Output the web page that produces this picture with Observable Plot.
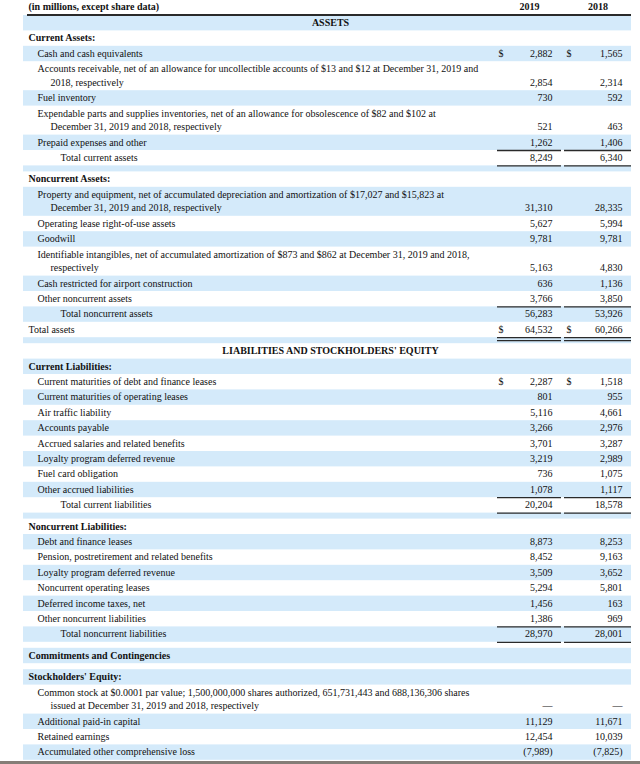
<!DOCTYPE html>
<html><head><meta charset="utf-8">
<script src="https://cdn.jsdelivr.net/npm/d3@7"></script>
<script src="https://cdn.jsdelivr.net/npm/@observablehq/plot@0.6"></script>
<style>
html,body{margin:0;padding:0;background:#fff;}
#chart svg{display:block;}
</style></head><body><div id="chart"></div>
<script>
// ---------- data ----------
const unitNote = "(in millions, except share data)";
const columnHeaders = ["2019", "2018"];

const rowLabels = [
  "ASSETS",
  "Current Assets:",
  "Cash and cash equivalents",
  "Accounts receivable, net of an allowance for uncollectible accounts of $13 and $12 at December 31, 2019 and|2018, respectively",
  "Fuel inventory",
  "Expendable parts and supplies inventories, net of an allowance for obsolescence of $82 and $102 at|December 31, 2019 and 2018, respectively",
  "Prepaid expenses and other",
  "Total current assets",
  "",
  "Noncurrent Assets:",
  "Property and equipment, net of accumulated depreciation and amortization of $17,027 and $15,823 at|December 31, 2019 and 2018, respectively",
  "Operating lease right-of-use assets",
  "Goodwill",
  "Identifiable intangibles, net of accumulated amortization of $873 and $862 at December 31, 2019 and 2018,|respectively",
  "Cash restricted for airport construction",
  "Other noncurrent assets",
  "Total noncurrent assets",
  "Total assets",
  "",
  "LIABILITIES AND STOCKHOLDERS' EQUITY",
  "Current Liabilities:",
  "Current maturities of debt and finance leases",
  "Current maturities of operating leases",
  "Air traffic liability",
  "Accounts payable",
  "Accrued salaries and related benefits",
  "Loyalty program deferred revenue",
  "Fuel card obligation",
  "Other accrued liabilities",
  "Total current liabilities",
  "",
  "Noncurrent Liabilities:",
  "Debt and finance leases",
  "Pension, postretirement and related benefits",
  "Loyalty program deferred revenue",
  "Noncurrent operating leases",
  "Deferred income taxes, net",
  "Other noncurrent liabilities",
  "Total noncurrent liabilities",
  "",
  "Commitments and Contingencies",
  "",
  "Stockholders' Equity:",
  "Common stock at $0.0001 par value; 1,500,000,000 shares authorized, 651,731,443 and 688,136,306 shares|issued at December 31, 2019 and 2018, respectively",
  "Additional paid-in capital",
  "Retained earnings",
  "Accumulated other comprehensive loss"
];

// row roles: section, group, item, subtotal, total, grand, spacer
const rowKinds = [
  "section","group","item","item","item","item","item","subtotal","spacer",
  "group","item","item","item","item","item","item","total","grand","spacer",
  "section","group","item","item","item","item","item","item","item","item","subtotal","spacer",
  "group","item","item","item","item","item","item","subtotal","spacer",
  "group","spacer","group","item","item","item","item"
];

const values2019 = [
  null,null,2882,2854,730,521,1262,8249,null,
  null,31310,5627,9781,5163,636,3766,56283,64532,null,
  null,null,2287,801,5116,3266,3701,3219,736,1078,20204,null,
  null,8873,8452,3509,5294,1456,1386,28970,null,
  null,null,null,0,11129,12454,-7989
];
const values2018 = [
  null,null,1565,2314,592,463,1406,6340,null,
  null,28335,5994,9781,4830,1136,3850,53926,60266,null,
  null,null,1518,955,4661,2976,3287,2989,1075,1117,18578,null,
  null,8253,9163,3652,5801,163,969,28001,null,
  null,null,null,0,11671,10039,-7825
];

const dollarRows = ["Cash and cash equivalents", "Total assets", "Current maturities of debt and finance leases"];

// ---------- layout (computed) ----------
const L = {
  bandX1: 23, bandX2: 631, headX: 28, itemX: 37, wrapX: 50, totalX: 60, centerX: 330,
  dollar1: 498, val1: 552, dollar2: 566, val2: 622,
  col1: [497, 561], col2: [564, 631],
  top: 15, line: 15.4, dbl: 29, spacer: 6
};
const fmt = d3.format(",");
const fmtVal = v => v == null ? "" : v === 0 ? "—" : v < 0 ? "(" + fmt(-v) + ")" : fmt(v);

const rows = rowLabels.map((label, i) => ({label, kind: rowKinds[i], v19: values2019[i], v18: values2018[i], i}));
let yy = L.top;
for (const r of rows) {
  r.lines = r.kind === "spacer" ? [] : r.label.split("|");
  const h = r.kind === "spacer" ? L.spacer : (r.lines.length > 1 ? L.dbl : L.line);
  r.y1 = yy; r.y2 = yy + h; yy += h;
  r.shade = r.i % 2 === 0;
}

const plainText = [], boldStart = [], boldMiddle = [], valueText = [];
for (const r of rows) {
  if (r.kind === "spacer") continue;
  const lineTop = r.y1 + L.line / 2 - 0.5;
  r.lines.forEach((t, k) => {
    const ly = lineTop + k * (L.dbl - L.line);
    if (r.kind === "section") boldMiddle.push({x: L.centerX, y: ly, t});
    else if (r.kind === "group") boldStart.push({x: L.headX, y: ly, t});
    else {
      const x = r.kind === "grand" ? L.headX : (r.kind === "subtotal" || r.kind === "total") ? L.totalX : (k === 0 ? L.itemX : L.wrapX);
      plainText.push({x, y: ly, t});
    }
  });
  const vy = lineTop + (r.lines.length - 1) * (L.dbl - L.line);
  if (r.v19 != null) valueText.push({x: L.val1, y: vy, t: fmtVal(r.v19)});
  if (r.v18 != null) valueText.push({x: L.val2, y: vy, t: fmtVal(r.v18)});
  if (dollarRows.includes(r.label)) {
    plainText.push({x: L.dollar1, y: vy, t: "$"});
    plainText.push({x: L.dollar2, y: vy, t: "$"});
  }
}

const rules = [];
for (const r of rows) {
  const cols = [L.col1, L.col2];
  if (r.kind === "subtotal" || r.kind === "total") cols.forEach(c => rules.push({x1: c[0], x2: c[1], y: r.y1}));
  if (r.kind === "subtotal") cols.forEach(c => rules.push({x1: c[0], x2: c[1], y: r.y2}));
  if (r.kind === "grand") cols.forEach(c => { rules.push({x1: c[0], x2: c[1], y: r.y2}); rules.push({x1: c[0], x2: c[1], y: r.y2 + 3}); });
}

boldStart.push({x: L.headX, y: 6.5, t: unitNote});
boldMiddle.push({x: (L.col1[0] + L.col1[1]) / 2, y: 6.5, t: columnHeaders[0]});
boldMiddle.push({x: (L.col2[0] + L.col2[1]) / 2, y: 6.5, t: columnHeaders[1]});

const font = "Liberation Serif";
const fs = 10;
const ink = "#111";
const chart = Plot.plot({
  width: 640, height: 764, margin: 0,
  x: {type: "linear", domain: [0, 640], range: [0, 640], axis: null},
  y: {type: "linear", domain: [0, 764], range: [0, 764], axis: null},
  style: {fontFamily: font, background: "#fff"},
  marks: [
    Plot.rect(rows.filter(r => r.shade), {x1: L.bandX1, x2: L.bandX2, y1: "y1", y2: "y2", fill: "#d4eafa"}),
    Plot.ruleY([14.5], {x1: 27, x2: 631, stroke: "#2a2a2a", strokeWidth: 2}),
    Plot.ruleY(rules, {x1: "x1", x2: "x2", y: "y", stroke: "#2a2a2a", strokeWidth: 1.3}),
    Plot.text(boldStart, {x: "x", y: "y", text: "t", textAnchor: "start", fontWeight: "bold", fontSize: fs, fill: ink, lineAnchor: "middle"}),
    Plot.text(boldMiddle, {x: "x", y: "y", text: "t", textAnchor: "middle", fontWeight: "bold", fontSize: fs, fill: ink, lineAnchor: "middle"}),
    Plot.text(plainText, {x: "x", y: "y", text: "t", textAnchor: "start", fontSize: fs, fill: ink, lineAnchor: "middle"}),
    Plot.text(valueText, {x: "x", y: "y", text: "t", textAnchor: "end", fontSize: fs, fill: ink, lineAnchor: "middle"}),
    Plot.ruleY([762], {x1: 0, x2: 640, stroke: "#857d77", strokeWidth: 3})
  ]
});
document.getElementById("chart").append(chart);
</script></body></html>
